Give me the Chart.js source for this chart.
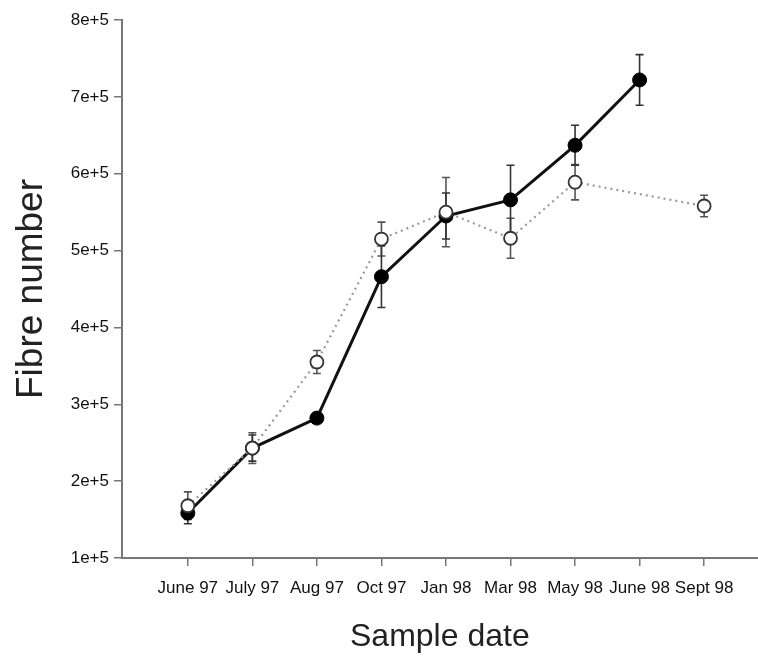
<!DOCTYPE html>
<html>
<head>
<meta charset="utf-8">
<script src="https://cdn.jsdelivr.net/npm/chart.js@4/dist/chart.umd.min.js"></script>
<style>
  html, body { margin: 0; padding: 0; background: #fff; overflow: hidden; }
  #wrap { width: 758px; height: 662px; overflow: hidden; }
  canvas { display: block; }
</style>
</head>
<body>
<div id="wrap"><canvas id="c" width="766" height="662"></canvas></div>
<script>
// Sample dates along the x axis
const sampleDates = ['June 97', 'July 97', 'Aug 97', 'Oct 97', 'Jan 98', 'Mar 98', 'May 98', 'June 98', 'Sept 98'];

// Fibre number, filled-circle series (mean and error)
const filledMean = [158500, 243000, 282000, 466000, 545000, 566000, 637000, 722000, null];
const filledErr  = [14000, 17000, 5000, 40000, 30000, 45000, 26000, 33000, null];

// Fibre number, open-circle series (mean and error)
const openMean = [168000, 243000, 355000, 515000, 550000, 516000, 589000, null, 558000];
const openErr  = [18000, 20000, 15000, 22000, 45000, 26000, 23000, null, 14000];

// Y axis ticks
const yTickValues = [100000, 200000, 300000, 400000, 500000, 600000, 700000, 800000];
const yTickLabels = ['1e+5', '2e+5', '3e+5', '4e+5', '5e+5', '6e+5', '7e+5', '8e+5'];

const toPoints = (arr) => arr.map((v, i) => ({ x: i, y: v }));

// Vertical error bars with caps, drawn beneath the markers
const errorBars = {
  id: 'errorBars',
  beforeDatasetsDraw(chart) {
    const { ctx, scales: { x, y } } = chart;
    chart.data.datasets.forEach((ds, di) => {
      if (!ds.errors || !chart.isDatasetVisible(di)) return;
      ctx.save();
      ctx.strokeStyle = ds.errorColor;
      ctx.lineWidth = 1.6;
      ds.data.forEach((p, i) => {
        const e = ds.errors[i];
        if (p.y == null || e == null) return;
        const px = x.getPixelForValue(p.x);
        const top = y.getPixelForValue(p.y + e);
        const bot = y.getPixelForValue(p.y - e);
        ctx.beginPath();
        ctx.moveTo(px, top); ctx.lineTo(px, bot);
        ctx.moveTo(px - 4, top); ctx.lineTo(px + 4, top);
        ctx.moveTo(px - 4, bot); ctx.lineTo(px + 4, bot);
        ctx.stroke();
      });
      ctx.restore();
    });
  }
};

const tickFont = { family: '"Liberation Sans", Arial, sans-serif', size: 17 };
const titleFontFamily = '"Liberation Sans", Arial, sans-serif';

new Chart(document.getElementById('c'), {
  type: 'line',
  data: {
    datasets: [
      {
        label: 'open',
        data: toPoints(openMean),
        errors: openErr,
        errorColor: '#555',
        order: 0,
        spanGaps: true,
        borderColor: '#999',
        borderWidth: 2.2,
        borderDash: [2, 4],
        pointRadius: 6.5,
        pointBackgroundColor: '#fff',
        pointBorderColor: '#333',
        pointBorderWidth: 1.8,
        tension: 0
      },
      {
        label: 'filled',
        data: toPoints(filledMean),
        errors: filledErr,
        errorColor: '#333',
        order: 1,
        borderColor: '#111',
        borderWidth: 3,
        pointRadius: 7,
        pointBackgroundColor: '#000',
        pointBorderColor: '#000',
        pointBorderWidth: 1,
        tension: 0
      }
    ]
  },
  options: {
    responsive: false,
    animation: false,
    layout: { padding: { top: 20, left: 0, right: 0, bottom: 0 } },
    plugins: { legend: { display: false }, tooltip: { enabled: false } },
    scales: {
      x: {
        type: 'linear',
        min: -1.02,
        max: 8.83,
        afterBuildTicks: (s) => { s.ticks = sampleDates.map((_, i) => ({ value: i })); },
        afterFit: (s) => { s.height = 104; },
        ticks: {
          callback: (v) => sampleDates[v],
          font: tickFont,
          color: '#111',
          padding: 12,
          maxRotation: 0,
          autoSkip: false
        },
        grid: { drawOnChartArea: false, drawTicks: true, tickLength: 8, color: '#777', lineWidth: 1.5 },
        border: { display: true, color: '#777', width: 2 },
        title: {
          display: true,
          text: 'Sample date',
          font: { family: titleFontFamily, size: 32 },
          color: '#222',
          padding: { top: 0, bottom: 6 }
        }
      },
      y: {
        min: 100000,
        max: 800000,
        afterBuildTicks: (s) => { s.ticks = yTickValues.map((v) => ({ value: v })); },
        afterFit: (s) => { s.width = 122; },
        ticks: {
          callback: (v) => yTickLabels[yTickValues.indexOf(v)],
          font: tickFont,
          color: '#111',
          padding: 5
        },
        grid: { drawOnChartArea: false, drawTicks: true, tickLength: 8, color: '#777', lineWidth: 1.5 },
        border: { display: true, color: '#777', width: 2 },
        title: {
          display: true,
          text: 'Fibre number',
          font: { family: titleFontFamily, size: 37 },
          color: '#222',
          padding: { top: 10, bottom: 0 }
        }
      }
    }
  },
  plugins: [errorBars]
});
</script>
</body>
</html>
